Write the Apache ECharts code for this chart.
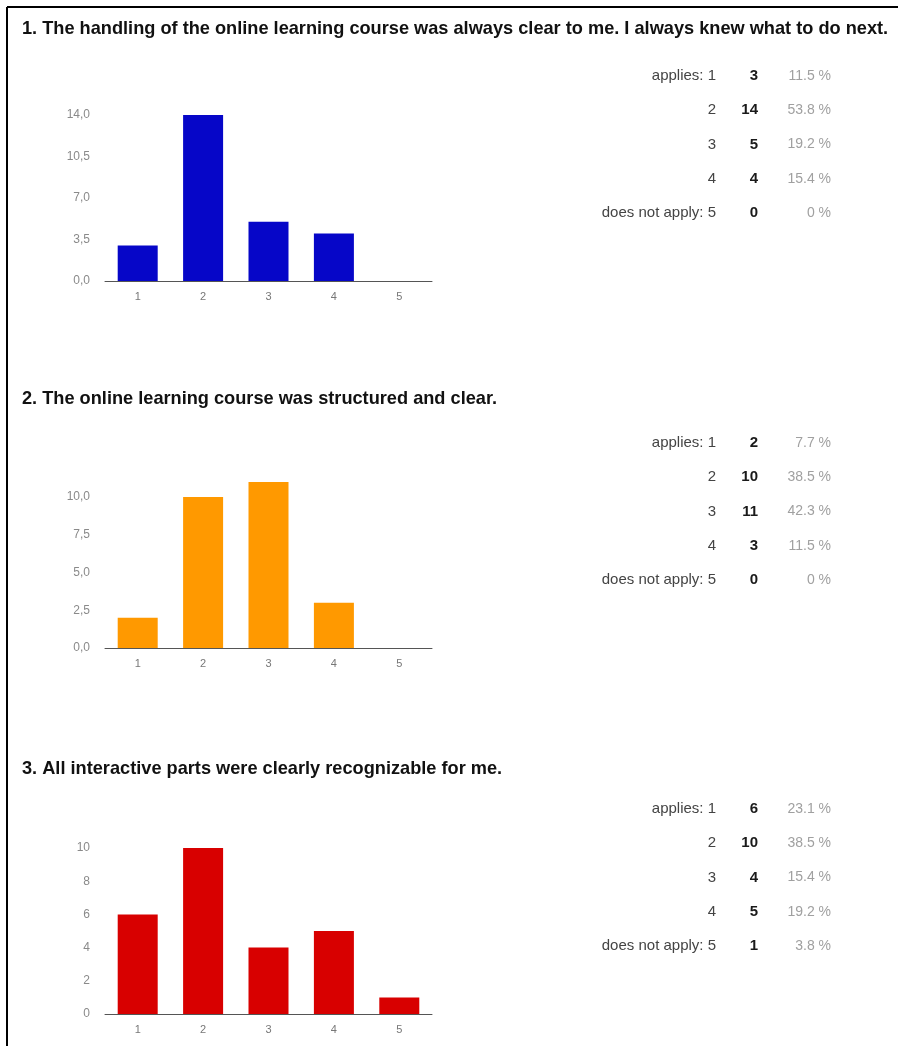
<!DOCTYPE html>
<html>
<head>
<meta charset="utf-8">
<script src="https://cdn.jsdelivr.net/npm/echarts@6/dist/echarts.min.js"></script>
<style>
html,body{margin:0;padding:0;background:#fff;}
#chart{width:898px;height:1046px;}
</style>
</head>
<body>
<div id="chart"></div>
<script>
const categories = ['1', '2', '3', '4', '5'];
const rowLabels = ['applies: 1', '2', '3', '4', 'does not apply: 5'];
const titles = [
  '1. The handling of the online learning course was always clear to me. I always knew what to do next.',
  '2. The online learning course was structured and clear.',
  '3. All interactive parts were clearly recognizable for me.'
];
const q1Values = [3, 14, 5, 4, 0];
const q2Values = [2, 10, 11, 3, 0];
const q3Values = [6, 10, 4, 5, 1];
const q1Percent = ['11.5 %', '53.8 %', '19.2 %', '15.4 %', '0 %'];
const q2Percent = ['7.7 %', '38.5 %', '42.3 %', '11.5 %', '0 %'];
const q3Percent = ['23.1 %', '38.5 %', '15.4 %', '19.2 %', '3.8 %'];
const yMax = [14, 11, 10];
const yInterval = [3.5, 2.5, 2];
const yDecimals = [1, 1, 0];
const barColors = ['#0606c8', '#ff9900', '#d80000'];

const values = [q1Values, q2Values, q3Values];
const percents = [q1Percent, q2Percent, q3Percent];

const chart = echarts.init(document.getElementById('chart'), null, {renderer: 'canvas'});

const sectionOffset = [0, 367, 733];
const titleTops = [20, 390, 760];
const grids = [], xAxes = [], yAxes = [], series = [], titleComps = [], graphics = [];
const smallFont = 'Arial, "Liberation Sans"';

graphics.push({type: 'line', shape: {x1: 7, y1: 7, x2: 898, y2: 7}, style: {stroke: '#000', lineWidth: 2}});
graphics.push({type: 'line', shape: {x1: 7, y1: 7, x2: 7, y2: 1046}, style: {stroke: '#000', lineWidth: 2}});

for (let k = 0; k < 3; k++) {
  const off = sectionOffset[k];
  titleComps.push({
    text: titles[k], left: 22, top: titleTops[k], padding: 0,
    textStyle: {fontFamily: '"Liberation Sans", Arial', fontWeight: 'bold', fontSize: 18.2, color: '#111'}
  });
  grids.push({left: 105, width: 327, top: off + 115, height: 166});
  xAxes.push({
    type: 'category', gridIndex: k, data: categories,
    axisLine: {lineStyle: {color: '#555', width: 1}},
    axisTick: {show: false},
    axisLabel: {color: '#777', fontSize: 11, fontFamily: smallFont, margin: 10}
  });
  const dec = yDecimals[k];
  yAxes.push({
    type: 'value', gridIndex: k, min: 0, max: yMax[k], interval: yInterval[k],
    splitLine: {show: false}, axisLine: {show: false}, axisTick: {show: false},
    axisLabel: {
      color: '#8a8a8a', fontSize: 12, fontFamily: smallFont, margin: 15,
      showMaxLabel: (yMax[k] % yInterval[k] === 0),
      formatter: v => v.toFixed(dec).replace('.', ',')
    }
  });
  series.push({
    type: 'bar', xAxisIndex: k, yAxisIndex: k, data: values[k], barWidth: 40,
    itemStyle: {color: barColors[k]}, silent: true
  });
  for (let i = 0; i < rowLabels.length; i++) {
    const y = off + 76 + i * 34.3;
    graphics.push({type: 'text', x: 716, y: y, style: {text: rowLabels[i], align: 'right', verticalAlign: 'middle', fill: '#444', font: '15px ' + smallFont}});
    graphics.push({type: 'text', x: 758, y: y, style: {text: String(values[k][i]), align: 'right', verticalAlign: 'middle', fill: '#1a1a1a', font: 'bold 15px ' + smallFont}});
    graphics.push({type: 'text', x: 831, y: y, style: {text: percents[k][i], align: 'right', verticalAlign: 'middle', fill: '#a0a0a0', font: '14px ' + smallFont}});
  }
}

chart.setOption({
  animation: false,
  backgroundColor: '#fff',
  title: titleComps,
  grid: grids,
  xAxis: xAxes,
  yAxis: yAxes,
  series: series,
  graphic: graphics
});
</script>
</body>
</html>
